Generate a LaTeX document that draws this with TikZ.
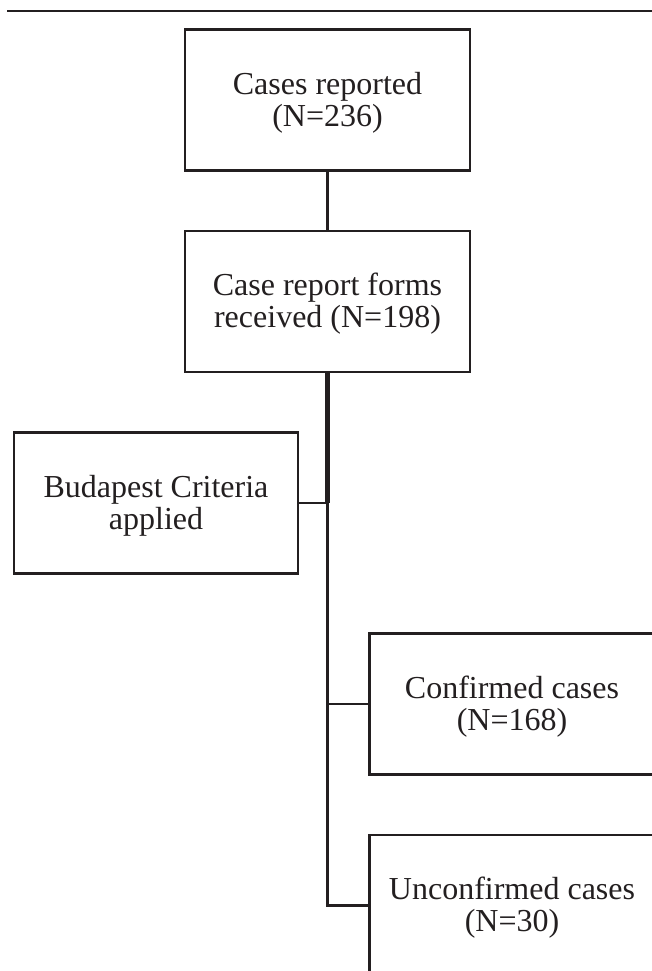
\documentclass[tikz,border=0pt]{standalone}
\usepackage{fontspec}
\setmainfont{Liberation Serif}
\definecolor{ink}{RGB}{35,31,32}
\begin{document}
\begin{tikzpicture}[x=1pt,y=-1pt,
  box/.style={draw=ink, text=ink, line width=2.9pt, fill=white,
    minimum width=285pt, minimum height=141pt, align=center, inner sep=0pt,
    text depth=2pt, font=\fontsize{32}{32}\selectfont},
  conn/.style={draw=ink, line width=2.8pt},
  heavyconn/.style={draw=ink, line width=4.8pt},
  rulestyle/.style={draw=ink, line width=2.8pt}]
\useasboundingbox (0,0) rectangle (652,971);
\clip (0,0) rectangle (652,971);
\fill[white] (0,0) rectangle (652,971);
% top rule
\coordinate (r1) at (7,11);
\coordinate (r2) at (660,11);
\draw[rulestyle] (r1) -- (r2);
% boxes
\node[box] (b1) at (327.5,100) {Cases reported\\(N=236)};
\node[box] (b2) at (327.5,301.5) {Case report forms\\received (N=198)};
\node[box, minimum width=284pt] (b3) at (156,503) {Budapest Criteria\\applied};
\node[box] (b4) at (512,704) {Confirmed cases\\(N=168)};
\node[box] (b5) at (512,905.5) {Unconfirmed cases\\(N=30)};
% connectors
\coordinate (j3) at (b2.south |- b3.east);
\coordinate (j4) at (b2.south |- b4.west);
\coordinate (j5) at (b2.south |- b5.west);
\draw[conn] (b1.south) -- (b2.north);
\draw[heavyconn] (b2.south) -- (j3);
\draw[conn] (b3.east) -- (j3);
\draw[conn] (j3) -- (j5);
\draw[conn, line cap=rect] (j5) -- (b5.west);
\draw[conn] (j4) -- (b4.west);
\end{tikzpicture}
\end{document}
